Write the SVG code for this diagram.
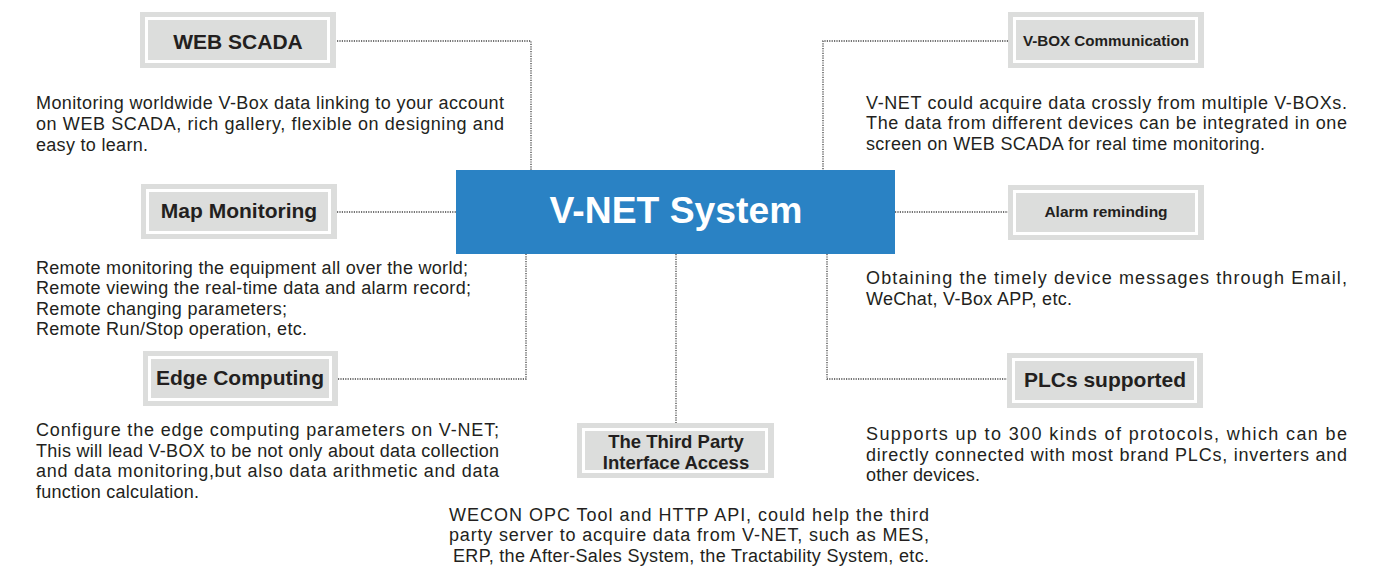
<svg xmlns="http://www.w3.org/2000/svg" width="1387" height="573" viewBox="0 0 1387 573">
<style>
.outer{fill:#dcdddc}
.inner{fill:#dcdddc;stroke:#fff;stroke-width:3}
.lbl{font-family:"Liberation Sans",Arial,sans-serif;font-weight:bold;fill:#231f20;text-anchor:middle}
.desc{font-family:"Liberation Sans",Arial,sans-serif;font-size:18px;fill:#231f20}
.con{fill:none;stroke:#444;stroke-width:1.3;stroke-dasharray:1.2 1.2}
</style>
<rect width="1387" height="573" fill="#fff"/>
<g id="connectors">
<polyline class="con" points="337,41 531,41 531,170"/>
<polyline class="con" points="337,212 456,212"/>
<polyline class="con" points="338,379 526,379 526,254"/>
<polyline class="con" points="676,254 676,423"/>
<polyline class="con" points="1008,41 823,41 823,170"/>
<polyline class="con" points="895,212 1008,212"/>
<polyline class="con" points="1008,379 827,379 827,254"/>
</g>
<g id="center">
<rect x="456" y="170" width="439" height="84" fill="#2a82c4"/>
<text x="676" y="223" class="lbl" style="fill:#fff;font-size:37.3px">V-NET System</text>
</g>
<g id="web-scada">
<rect class="outer" x="140" y="12" width="196" height="56"/>
<rect class="inner" x="146.5" y="18.5" width="182" height="43"/>
<text x="238" y="48.5" class="lbl" font-size="21">WEB SCADA</text>
<text class="desc"><tspan x="36" y="109" textLength="468">Monitoring worldwide V-Box data linking to your account</tspan><tspan x="36" y="130" textLength="468">on WEB SCADA, rich gallery, flexible on designing and</tspan><tspan x="36" y="151" textLength="112">easy to learn.</tspan></text>
</g>
<g id="map-monitoring">
<rect class="outer" x="141" y="184" width="196" height="55"/>
<rect class="inner" x="147.5" y="190.5" width="182" height="42"/>
<text x="239" y="217.5" class="lbl" font-size="21">Map Monitoring</text>
<text class="desc"><tspan x="36" y="274" textLength="432">Remote monitoring the equipment all over the world;</tspan><tspan x="36" y="294" textLength="435">Remote viewing the real-time data and alarm record;</tspan><tspan x="36" y="315" textLength="251">Remote changing parameters;</tspan><tspan x="36" y="335" textLength="271">Remote Run/Stop operation, etc.</tspan></text>
</g>
<g id="edge-computing">
<rect class="outer" x="143" y="351" width="195" height="55"/>
<rect class="inner" x="149.5" y="357.5" width="181" height="42"/>
<text x="240" y="384.5" class="lbl" font-size="21">Edge Computing</text>
<text class="desc"><tspan x="36" y="436" textLength="463">Configure the edge computing parameters on V-NET;</tspan><tspan x="36" y="457" textLength="463">This will lead V-BOX to be not only about data collection</tspan><tspan x="36" y="477" textLength="463">and data monitoring,but also data arithmetic and data</tspan><tspan x="36" y="498" textLength="163">function calculation.</tspan></text>
</g>
<g id="third-party">
<rect class="outer" x="577" y="423" width="197" height="55"/>
<rect class="inner" x="583.5" y="429.5" width="183" height="42"/>
<text x="676" y="447.5" class="lbl" font-size="18.5">The Third Party</text>
<text x="676" y="468.5" class="lbl" font-size="18.5">Interface Access</text>
<text class="desc"><tspan x="449" y="521" textLength="480">WECON OPC Tool and HTTP API, could help the third</tspan><tspan x="449" y="541" textLength="480">party server to acquire data from V-NET, such as MES,</tspan><tspan x="453" y="562" textLength="476">ERP, the After-Sales System, the Tractability System, etc.</tspan></text>
</g>
<g id="vbox-communication">
<rect class="outer" x="1008" y="12" width="196" height="56"/>
<rect class="inner" x="1014.5" y="18.5" width="182" height="43"/>
<text x="1106" y="45.5" class="lbl" font-size="15.2">V-BOX Communication</text>
<text class="desc"><tspan x="866" y="109" textLength="481">V-NET could acquire data crossly from multiple V-BOXs.</tspan><tspan x="866" y="129" textLength="481">The data from different devices can be integrated in one</tspan><tspan x="866" y="150" textLength="399">screen on WEB SCADA for real time monitoring.</tspan></text>
</g>
<g id="alarm-reminding">
<rect class="outer" x="1008" y="185" width="196" height="55"/>
<rect class="inner" x="1014.5" y="191.5" width="182" height="42"/>
<text x="1106" y="216.5" class="lbl" font-size="15.5">Alarm reminding</text>
<text class="desc"><tspan x="866" y="284" textLength="481">Obtaining the timely device messages through Email,</tspan><tspan x="866" y="305" textLength="206">WeChat, V-Box APP, etc.</tspan></text>
</g>
<g id="plcs-supported">
<rect class="outer" x="1007" y="353" width="196" height="55"/>
<rect class="inner" x="1013.5" y="359.5" width="182" height="42"/>
<text x="1105" y="386.5" class="lbl" font-size="21">PLCs supported</text>
<text class="desc"><tspan x="866" y="440" textLength="481">Supports up to 300 kinds of protocols, which can be</tspan><tspan x="866" y="461" textLength="481">directly connected with most brand PLCs, inverters and</tspan><tspan x="866" y="481" textLength="114">other devices.</tspan></text>
</g>
</svg>
